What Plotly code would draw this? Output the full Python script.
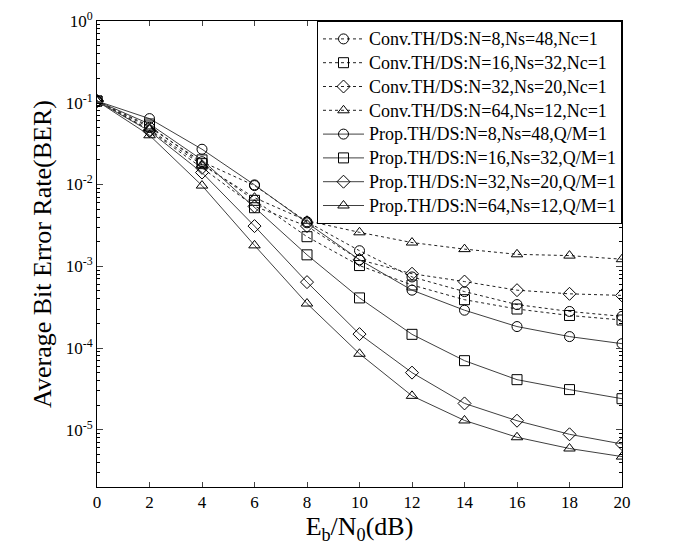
import plotly.graph_objects as go

snr = [0, 2, 4, 6, 8, 10, 12, 14, 16, 18, 20]

conv_n8 = [0.105, 0.050, 0.019, 0.0097, 0.0035, 0.00155, 0.00074, 0.00049, 0.00034, 0.00028, 0.000244]
conv_n16 = [0.105, 0.052, 0.018, 0.0064, 0.0023, 0.00102, 0.00059, 0.00039, 0.00030, 0.00025, 0.00022]
conv_n32 = [0.105, 0.046, 0.016, 0.0054, 0.0031, 0.0012, 0.00081, 0.00065, 0.00051, 0.00046, 0.00044]
conv_n64 = [0.105, 0.047, 0.0174, 0.0069, 0.0036, 0.0026, 0.00195, 0.00162, 0.0014, 0.00135, 0.00122]
prop_n8 = [0.105, 0.064, 0.027, 0.0099, 0.0034, 0.0012, 0.00051, 0.00029, 0.000183, 0.000138, 0.000113]
prop_n16 = [0.105, 0.055, 0.020, 0.0052, 0.00138, 0.00041, 0.000147, 7.0e-5, 4.1e-5, 3.1e-5, 2.4e-5]
prop_n32 = [0.105, 0.045, 0.014, 0.0031, 0.00064, 0.000148, 5.0e-5, 2.1e-5, 1.29e-5, 8.8e-6, 6.7e-6]
prop_n64 = [0.105, 0.040, 0.0097, 0.0018, 0.00035, 8.5e-5, 2.6e-5, 1.3e-5, 8.1e-6, 5.9e-6, 4.7e-6]

names = [
    "Conv.TH/DS:N=8,Ns=48,Nc=1",
    "Conv.TH/DS:N=16,Ns=32,Nc=1",
    "Conv.TH/DS:N=32,Ns=20,Nc=1",
    "Conv.TH/DS:N=64,Ns=12,Nc=1",
    "Prop.TH/DS:N=8,Ns=48,Q/M=1",
    "Prop.TH/DS:N=16,Ns=32,Q/M=1",
    "Prop.TH/DS:N=32,Ns=20,Q/M=1",
    "Prop.TH/DS:N=64,Ns=12,Q/M=1",
]
series = [conv_n8, conv_n16, conv_n32, conv_n64, prop_n8, prop_n16, prop_n32, prop_n64]
symbols = ["circle-open", "square-open", "diamond-open", "triangle-up-open"] * 2
dashes = ["dot"] * 4 + ["solid"] * 4

ytick_vals = [1, 0.1, 0.01, 0.001, 1e-4, 1e-5]
ytick_text = ["10<sup>0</sup>", "10<sup>-1</sup>", "10<sup>-2</sup>", "10<sup>-3</sup>",
              "10<sup>-4</sup>", "10<sup>-5</sup>"]
xtick_vals = [0, 2, 4, 6, 8, 10, 12, 14, 16, 18, 20]

minor_vals = [m * 10 ** e for e in range(-6, 0) for m in range(2, 10)]

fig = go.Figure()
for name, ys, sym, dash in zip(names, series, symbols, dashes):
    fig.add_trace(go.Scatter(
        x=snr, y=ys, name='<span style="font-size:18px">' + name + '</span>',
        mode="lines+markers",
        line=dict(color="#404040" if dash == "solid" else "#222222", width=1, dash=dash),
        marker=dict(symbol=sym, size=10, color="black", line=dict(width=1, color="black")),
    ))

font_family = "Liberation Serif, Times New Roman, serif"
fig.update_layout(
    width=685, height=548,
    margin=dict(l=89, r=71, t=13, b=69),
    paper_bgcolor="white", plot_bgcolor="white",
    font=dict(family=font_family, color="black", size=17),
    showlegend=True,
    legend=dict(x=1, y=1, xanchor="right", yanchor="top",
                bordercolor="black", borderwidth=1, bgcolor="white",
                font=dict(family=font_family, size=16, color="black"),
                tracegroupgap=0, itemwidth=41),
    xaxis=dict(
        range=[0, 20], tickvals=xtick_vals, ticks="inside", ticklen=5,
        showline=True, linecolor="black", linewidth=1, mirror="allticks",
        showgrid=False, zeroline=False, automargin=False,
        tickfont=dict(size=17),
        title=dict(text="E<sub>b</sub>/N<sub>0</sub>(dB)", font=dict(size=26), standoff=0),
    ),
    yaxis=dict(
        type="log", range=[-5.7, 0], tickvals=ytick_vals, ticktext=ytick_text,
        ticks="inside", ticklen=6,
        minor=dict(tickvals=minor_vals, ticks="inside", ticklen=3, tickcolor="black", showgrid=False),
        showline=True, linecolor="black", linewidth=1, mirror="allticks",
        showgrid=False, zeroline=False, automargin=False,
        tickfont=dict(size=17),
        title=dict(text="Average Bit Error Rate(BER)", font=dict(size=26), standoff=6),
    ),
)

fig.write_html("out.html")
